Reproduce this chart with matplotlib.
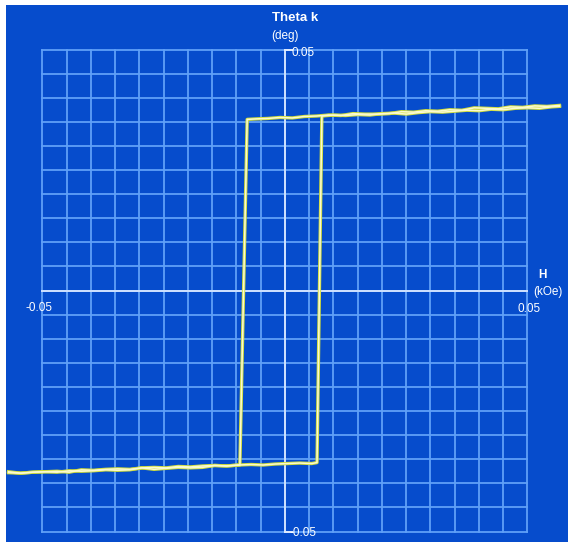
import matplotlib.pyplot as plt

# hysteresis loop, H in kOe, Theta k in deg
# descending branch (from +H saturation down to -H)
desc_x = [0.0566, 0.054, 0.0515, 0.049, 0.0465, 0.044, 0.0415, 0.039, 0.0365, 0.034,
          0.0315, 0.029, 0.0265, 0.024, 0.0215, 0.019, 0.0165, 0.014, 0.0115, 0.009,
          0.0065, 0.004, 0.0015, -0.001, -0.0035, -0.006, -0.0078,
          -0.0093, -0.012, -0.0145, -0.017, -0.0195, -0.022, -0.0245, -0.027, -0.0295,
          -0.032, -0.0345, -0.037, -0.0395, -0.042, -0.0445, -0.047, -0.0495, -0.052,
          -0.0545, -0.057]
desc_y = [0.0384, 0.0382, 0.0383, 0.0380, 0.0381, 0.0377, 0.0378, 0.0379, 0.0374, 0.0375,
          0.0372, 0.0373, 0.0370, 0.0371, 0.0367, 0.0366, 0.0366, 0.0367, 0.0363, 0.0364,
          0.0362, 0.0361, 0.0358, 0.0359, 0.0357, 0.0356, 0.0355,
          -0.0362, -0.0364, -0.0363, -0.0367, -0.0368, -0.0367, -0.0369, -0.0371, -0.0368,
          -0.0372, -0.0373, -0.0372, -0.0374, -0.0375, -0.0374, -0.0377, -0.0376, -0.0377,
          -0.0379, -0.0378]
# ascending branch (from -H saturation up to +H)
asc_x = [-0.057, -0.0545, -0.052, -0.0495, -0.047, -0.0445, -0.042, -0.0395, -0.037, -0.0345,
         -0.032, -0.0295, -0.027, -0.0245, -0.022, -0.0195, -0.017, -0.0145, -0.012, -0.0095,
         -0.007, -0.0045, -0.002, 0.0005, 0.003, 0.0055, 0.0066,
         0.0076, 0.010, 0.0125, 0.015, 0.0175, 0.020, 0.0225, 0.025, 0.0275, 0.030,
         0.0325, 0.035, 0.0375, 0.040, 0.0425, 0.045, 0.0475, 0.050, 0.0525, 0.055, 0.0566]
asc_y = [-0.0376, -0.0379, -0.0377, -0.0376, -0.0375, -0.0377, -0.0372, -0.0373, -0.0371, -0.0370,
         -0.0371, -0.0368, -0.0367, -0.0368, -0.0365, -0.0366, -0.0364, -0.0363, -0.0364, -0.0362,
         -0.0361, -0.0362, -0.0360, -0.0359, -0.0358, -0.0359, -0.0357,
         0.0362, 0.0364, 0.0363, 0.0365, 0.0364, 0.0367, 0.0368, 0.0366, 0.0369, 0.0371,
         0.0370, 0.0372, 0.0374, 0.0373, 0.0376, 0.0375, 0.0378, 0.0379, 0.0378, 0.0381, 0.0382]

grid_step = 0.005
grid_lim = 0.05

W, H = 568, 546
fig = plt.figure(figsize=(W / 100, H / 100), dpi=100)
fig.patch.set_facecolor('white')

# axes cover the blue panel
left, right, top, bottom = 6, 568, 5, 542
ax = fig.add_axes([left / W, 1 - bottom / H, (right - left) / W, (bottom - top) / H])
ax.set_facecolor('#064ccc')
cx, cy, half_x, half_y = 285, 290.5, 242.5, 241
ax.set_xlim((left - cx) / half_x * grid_lim, (right - cx) / half_x * grid_lim)
ax.set_ylim((cy - bottom) / half_y * grid_lim, (cy - top) / half_y * grid_lim)
ax.set_xticks([])
ax.set_yticks([])
for s in ax.spines.values():
    s.set_visible(False)

n = int(round(2 * grid_lim / grid_step))
for i in range(n + 1):
    v = -grid_lim + i * grid_step
    ax.plot([v, v], [-grid_lim, grid_lim], color='#5fa0f8', lw=1.3, zorder=1)
    ax.plot([-grid_lim, grid_lim], [v, v], color='#5fa0f8', lw=1.3, zorder=1)
# axes through origin
ax.plot([0, 0], [-grid_lim, grid_lim], color='#cfe0ff', lw=1.4, zorder=2)
ax.plot([-grid_lim, grid_lim], [0, 0], color='#cfe0ff', lw=1.4, zorder=2)
ax.plot([0, 0.0015], [grid_lim, grid_lim], color='#e0ebff', lw=1.4, zorder=2)
ax.plot([0, 0.0015], [-grid_lim, -grid_lim], color='#e0ebff', lw=1.4, zorder=2)

# loop
for xs, ys in [(desc_x, desc_y), (asc_x, asc_y)]:
    ax.plot(xs, ys, color='#d0dc3c', lw=2.4, zorder=3, solid_joinstyle='round')
    ax.plot(xs, ys, color='#fafad2', lw=1.1, zorder=4, solid_joinstyle='round')

fam = ['Liberation Sans', 'DejaVu Sans']


def px(x, y, s, size=8.5, weight='normal', ha='left', va='center'):
    fig.text(x / W, 1 - y / H, s, color='white', family=fam, fontsize=size,
             fontweight=weight, ha=ha, va=va)


px(272, 18, 'Theta k', size=9.5, weight='bold')
px(271, 36, '(deg)')
px(292, 53, '0.05')
px(26, 308, '-0.05')
px(517, 309, '0.05')
px(542, 275, 'H', weight='bold', ha='center')
px(548, 292, '(kOe)', ha='center')
px(289, 533, '-0.05')

fig.savefig('out.png', dpi=100, facecolor='white')
